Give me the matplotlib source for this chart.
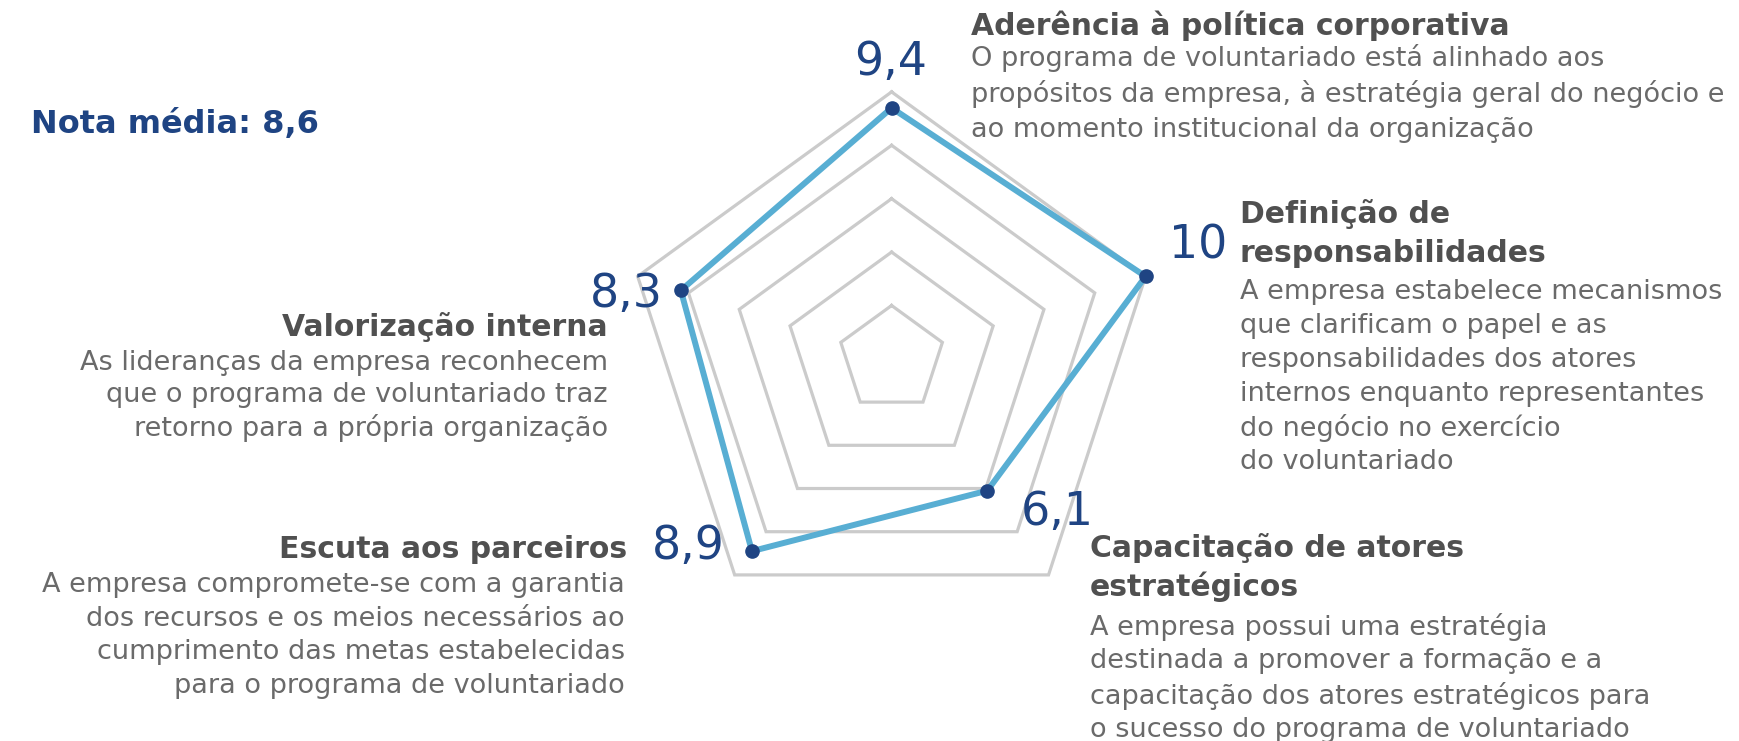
import matplotlib
matplotlib.use("Agg")
import matplotlib.pyplot as plt
import numpy as np

W, H = 1740, 741

# dimensões, em ordem horária a partir do topo
notas = [9.4, 10, 6.1, 8.9, 8.3]
rotulos_nota = ["9,4", "10", "6,1", "8,9", "8,3"]
titulos = [
    ["Aderência à política corporativa"],
    ["Definição de", "responsabilidades"],
    ["Capacitação de atores", "estratégicos"],
    ["Escuta aos parceiros"],
    ["Valorização interna"],
]
descricoes = [
    ["O programa de voluntariado está alinhado aos",
     "propósitos da empresa, à estratégia geral do negócio e",
     "ao momento institucional da organização"],
    ["A empresa estabelece mecanismos",
     "que clarificam o papel e as",
     "responsabilidades dos atores",
     "internos enquanto representantes",
     "do negócio no exercício",
     "do voluntariado"],
    ["A empresa possui uma estratégia",
     "destinada a promover a formação e a",
     "capacitação dos atores estratégicos para",
     "o sucesso do programa de voluntariado"],
    ["A empresa compromete-se com a garantia",
     "dos recursos e os meios necessários ao",
     "cumprimento das metas estabelecidas",
     "para o programa de voluntariado"],
    ["As lideranças da empresa reconhecem",
     "que o programa de voluntariado traz",
     "retorno para a própria organização"],
]
nota_media = "Nota média: 8,6"
niveis = [2, 4, 6, 8, 10]

AZUL_ESCURO = "#1f4483"
AZUL_LINHA = "#58aed3"
CINZA_GRADE = "#cbcbcb"
CINZA_TITULO = "#505050"
CINZA_TEXTO = "#6a6a6a"

plt.rcParams["font.family"] = ["DejaVu Sans"]

fig = plt.figure(figsize=(W / 100, H / 100), dpi=100)


def fx(x):
    return x / W


def fy(y):
    return 1 - y / H


# eixo do radar: centro em (891.6, 358.9) px, raio 10 = 267 px
cx, cy, R = 891.6, 358.9, 267.0
lim = 11
lado = 2 * lim * R / 10
ax = fig.add_axes([fx(cx - lado / 2), fy(cy + lado / 2), lado / W, lado / H])
ax.set_xlim(-lim, lim)
ax.set_ylim(-lim, lim)
ax.set_aspect("equal")
ax.axis("off")

n = len(notas)
ang = 2 * np.pi * np.arange(n) / n
ang_f = np.append(ang, ang[0])

for r in niveis:
    ax.plot(r * np.sin(ang_f), r * np.cos(ang_f), color=CINZA_GRADE, lw=2.3,
            solid_joinstyle="miter", zorder=1)

v = np.append(notas, notas[0])
ax.plot(v * np.sin(ang_f), v * np.cos(ang_f), color=AZUL_LINHA, lw=4.3,
        solid_joinstyle="miter", zorder=2)
ax.plot(np.array(notas) * np.sin(ang), np.array(notas) * np.cos(ang), "o",
        color=AZUL_ESCURO, ms=9.5, zorder=3)

fig.text(fx(31), fy(124), nota_media, fontsize=23, fontweight="bold",
         color=AZUL_ESCURO, va="center", ha="left")

# posições dos rótulos (px)
pos_nota = [(891, 63), (1198, 246), (1057, 513), (688, 547), (626, 294)]
pos_titulo = [(971, 26), (1240, 214), (1090, 548), (627, 549), (608, 327)]
pos_desc = [(971, 58), (1240, 292), (1090, 627), (625, 585), (608, 363)]
passo_titulo = [0, 39, 39, 0, 0]
passo_desc = [36, 34, 34.4, 33.7, 32.5]
alinh = ["left", "left", "left", "right", "right"]

caixa = dict(facecolor="white", edgecolor="none", pad=1)

for i in range(n):
    x, y = pos_nota[i]
    fig.text(fx(x), fy(y), rotulos_nota[i], fontsize=33, color=AZUL_ESCURO,
             ha="center", va="center")
    x, y = pos_titulo[i]
    for k, linha in enumerate(titulos[i]):
        fig.text(fx(x), fy(y + k * passo_titulo[i]), linha, fontsize=21.5,
                 fontweight="bold", color=CINZA_TITULO, ha=alinh[i],
                 va="center", zorder=5)
    x, y = pos_desc[i]
    for k, linha in enumerate(descricoes[i]):
        fig.text(fx(x), fy(y + k * passo_desc[i]), linha, fontsize=19.5,
                 color=CINZA_TEXTO, ha=alinh[i], va="center", bbox=caixa,
                 zorder=5)

fig.savefig("out.png", dpi=100, facecolor="white")
